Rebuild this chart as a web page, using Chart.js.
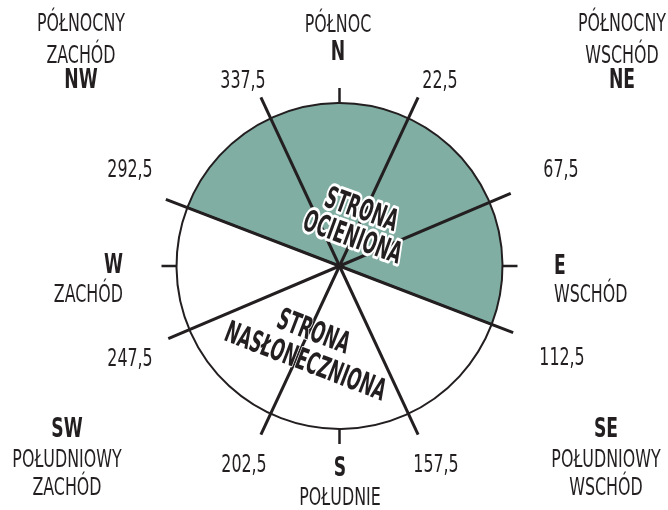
<!DOCTYPE html>
<html>
<head>
<meta charset="utf-8">
<script src="https://cdn.jsdelivr.net/npm/chart.js@4.4.0/dist/chart.umd.min.js"></script>
<style>
  body { margin: 0; background: #fff; }
  #wrap { position: relative; width: 668px; height: 510px; }
  #wrap canvas { position: absolute; left: 0; top: 0; }
</style>
</head>
<body>
<div id="wrap">
  <canvas id="discCanvas" width="668" height="510"></canvas>
  <canvas id="linesCanvas" width="668" height="510"></canvas>
</div>
<script>
// Directions, clockwise from north
const directionCodes = ['N', 'NE', 'E', 'SE', 'S', 'SW', 'W', 'NW'];
const directionNames = [['PÓŁNOC'], ['PÓŁNOCNY', 'WSCHÓD'], ['WSCHÓD'], ['POŁUDNIOWY', 'WSCHÓD'],
                        ['POŁUDNIE'], ['POŁUDNIOWY', 'ZACHÓD'], ['ZACHÓD'], ['PÓŁNOCNY', 'ZACHÓD']];
const directionAngles = [0, 45, 90, 135, 180, 225, 270, 315];

// Sector boundaries: label and the angle as drawn in the picture
const boundaryLabels = ['22,5', '67,5', '112,5', '157,5', '202,5', '247,5', '292,5', '337,5'];
const boundaryAngles = [25, 67, 111, 155, 205, 247, 291, 335];

// The two halves (shaded first, starting at shadedStart, clockwise)
const sideNames = [['STRONA', 'OCIENIONA'], ['STRONA', 'NASŁONECZNIONA']];
const sideSpans = [180, 180];
const shadedStart = 291;

/////////////// Layout & style ///////////////
const W = 668, H = 510;
const CX = 339.5, CY = 266;      // centre of the rose in pixels
const R = 163;                   // circle radius
const RAY = 186;                 // length of the boundary lines
const TICK = 15;
const INK = '#231f20';
const SHADE = '#80aea3';
const FONT = '"Liberation Sans Narrow", "DejaVu Sans Condensed", "Liberation Sans", sans-serif';

// anchor x, baselines, alignment; codeFirst = bold code above the name
const dirLayout = [
  { x: 338, y: [32, 60], align: 'center', codeFirst: false },      // N
  { x: 622, y: [31, 63, 88], align: 'center', codeFirst: false },  // NE
  { x: 554, y: [274, 302], align: 'left', codeFirst: true },       // E
  { x: 606, y: [437, 467, 495], align: 'center', codeFirst: true },// SE
  { x: 340, y: [476, 505], align: 'center', codeFirst: true },     // S
  { x: 67, y: [437, 467, 495], align: 'center', codeFirst: true }, // SW
  { x: 123, y: [273, 302], align: 'right', codeFirst: true },      // W
  { x: 81, y: [31, 63, 88], align: 'center', codeFirst: false }    // NW
];
const boundaryLayout = [
  [440, 88], [561, 177], [562, 365], [436, 472],
  [244, 472], [130, 366], [130, 177], [243, 88]
];
const sideLayout = [
  { rot: 20, lines: [[361, 211], [352, 239]], halo: 6 },
  { rot: 21, lines: [[313, 333], [305, 363]], halo: 2 }
];

const rad = d => d * Math.PI / 180;

/////////////// Disc (pie) ///////////////
new Chart(document.getElementById('discCanvas'), {
  type: 'pie',
  data: {
    labels: sideNames.map(s => s.join(' ')),
    datasets: [{
      data: sideSpans,
      backgroundColor: [SHADE, '#ffffff'],
      borderColor: INK,
      borderWidth: 2
    }]
  },
  options: {
    responsive: false,
    animation: false,
    events: [],
    rotation: shadedStart,
    radius: R,
    layout: { padding: { left: 2 * CX - W, top: 2 * CY - H } },
    plugins: { legend: { display: false }, tooltip: { enabled: false } }
  }
});

/////////////// Lines, ticks and texts (scatter overlay) ///////////////
const datasets = [];
boundaryAngles.forEach(a => {
  datasets.push({
    data: [{ x: 0, y: 0 }, { x: RAY * Math.sin(rad(a)), y: RAY * Math.cos(rad(a)) }],
    showLine: true, borderColor: INK, borderWidth: 3, pointRadius: 0
  });
});
directionAngles.filter(a => a % 90 === 0).forEach(a => {
  const s = Math.sin(rad(a)), c = Math.cos(rad(a));
  datasets.push({
    data: [{ x: R * s, y: R * c }, { x: (R + TICK) * s, y: (R + TICK) * c }],
    showLine: true, borderColor: INK, borderWidth: 2.5, pointRadius: 0
  });
});

function drawText(ctx, text, x, y, font, align, sx) {
  ctx.save();
  ctx.translate(x, y);
  ctx.scale(sx, 1);
  ctx.font = font;
  ctx.textAlign = align;
  ctx.textBaseline = 'alphabetic';
  ctx.fillText(text, 0, 0);
  ctx.restore();
}

const labelPlugin = {
  id: 'labels',
  afterDraw(chart) {
    const ctx = chart.ctx;
    const regFont = '24px ' + FONT;
    const boldFont = 'bold 26px ' + FONT;
    const innerFont = 'bold 30px ' + FONT;
    ctx.font = regFont;
    const sx = 88 / ctx.measureText('PÓŁNOCNY').width;
    ctx.font = innerFont;
    const sxIn = 170 / ctx.measureText('NASŁONECZNIONA').width;
    ctx.fillStyle = INK;

    directionCodes.forEach((code, i) => {
      const L = dirLayout[i];
      const lines = L.codeFirst ? [code].concat(directionNames[i]) : directionNames[i].concat([code]);
      lines.forEach((t, j) => {
        drawText(ctx, t, L.x, L.y[j], t === code ? boldFont : regFont, L.align, sx);
      });
    });

    boundaryLabels.forEach((t, i) => {
      drawText(ctx, t, boundaryLayout[i][0], boundaryLayout[i][1], regFont, 'center', sx);
    });

    sideNames.forEach((lines, i) => {
      const L = sideLayout[i];
      lines.forEach((t, j) => {
        ctx.save();
        ctx.translate(L.lines[j][0], L.lines[j][1]);
        ctx.rotate(rad(L.rot));
        ctx.scale(sxIn, 1);
        ctx.font = innerFont;
        ctx.textAlign = 'center';
        ctx.textBaseline = 'middle';
        ctx.lineJoin = 'round';
        ctx.strokeStyle = '#ffffff';
        ctx.lineWidth = L.halo;
        ctx.strokeText(t, 0, 0);
        ctx.fillStyle = INK;
        ctx.fillText(t, 0, 0);
        ctx.restore();
      });
    });
  }
};

new Chart(document.getElementById('linesCanvas'), {
  type: 'scatter',
  data: { datasets: datasets },
  options: {
    responsive: false,
    animation: false,
    events: [],
    layout: { padding: 0 },
    scales: {
      x: { type: 'linear', display: false, min: -CX, max: W - CX },
      y: { type: 'linear', display: false, min: -(H - CY), max: CY }
    },
    plugins: { legend: { display: false }, tooltip: { enabled: false } }
  },
  plugins: [labelPlugin]
});
</script>
</body>
</html>
